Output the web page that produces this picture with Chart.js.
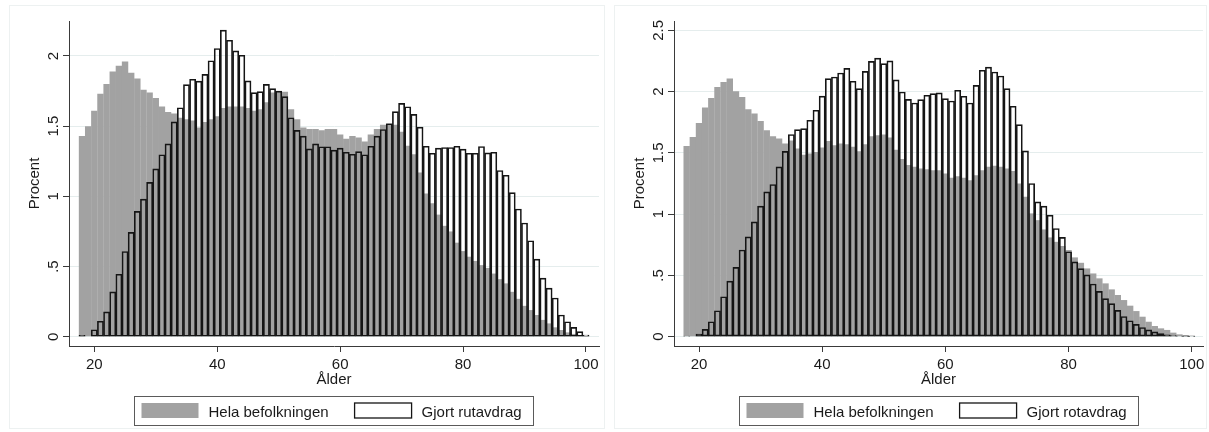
<!DOCTYPE html>
<html>
<head>
<meta charset="utf-8">
<script src="https://cdn.jsdelivr.net/npm/chart.js@4.4.1/dist/chart.umd.min.js"></script>
<style>
  html, body { margin: 0; padding: 0; background: #ffffff; }
  body { width: 1209px; height: 432px; position: relative; overflow: hidden; }
  .frame { position: absolute; border: 1px solid #edf1f1; box-sizing: border-box; }
  .panel { position: absolute; top: 0; width: 604px; height: 432px; }
</style>
</head>
<body>
<div class="frame" style="left:9px;top:5px;width:596px;height:424px"></div>
<div class="frame" style="left:614px;top:5px;width:593px;height:424px"></div>
<div class="panel" style="left:0px"><canvas id="rut" width="604" height="432"></canvas></div>
<div class="panel" style="left:605px"><canvas id="rot" width="604" height="432"></canvas></div>
<script>
// Age (years), one bar per age
const ages = [18, 19, 20, 21, 22, 23, 24, 25, 26, 27, 28, 29, 30, 31, 32, 33, 34, 35, 36, 37,
  38, 39, 40, 41, 42, 43, 44, 45, 46, 47, 48, 49, 50, 51, 52, 53, 54, 55, 56, 57,
  58, 59, 60, 61, 62, 63, 64, 65, 66, 67, 68, 69, 70, 71, 72, 73, 74, 75, 76, 77,
  78, 79, 80, 81, 82, 83, 84, 85, 86, 87, 88, 89, 90, 91, 92, 93, 94, 95, 96, 97,
  98, 99, 100];

// Share of whole population per age (%) - RUT panel
const rutPopulation = [1.43, 1.50, 1.61, 1.73, 1.80, 1.89, 1.93, 1.96, 1.88, 1.84,
  1.76, 1.74, 1.70, 1.64, 1.60, 1.59, 1.56, 1.55, 1.54, 1.49,
  1.53, 1.55, 1.57, 1.63, 1.64, 1.64, 1.64, 1.63, 1.61, 1.62,
  1.67, 1.74, 1.745, 1.745, 1.62, 1.55, 1.49, 1.48, 1.48, 1.47,
  1.48, 1.48, 1.44, 1.41, 1.43, 1.42, 1.39, 1.44, 1.48, 1.51,
  1.52, 1.51, 1.46, 1.36, 1.30, 1.17, 1.02, 0.95, 0.87, 0.79,
  0.75, 0.67, 0.61, 0.57, 0.54, 0.51, 0.49, 0.45, 0.41, 0.38,
  0.32, 0.27, 0.22, 0.19, 0.155, 0.12, 0.095, 0.067, 0.048, 0.031,
  0.02, 0.01, 0.005];

// Share of RUT deduction users per age (%)
const rutUsers = [0.01, 0, 0.05, 0.11, 0.177, 0.32, 0.445, 0.607, 0.743, 0.893,
  0.98, 1.10, 1.196, 1.296, 1.374, 1.531, 1.631, 1.796, 1.834, 1.821,
  1.869, 1.966, 2.053, 2.184, 2.112, 2.036, 2.005, 1.823, 1.739, 1.746,
  1.798, 1.767, 1.75, 1.71, 1.56, 1.47, 1.429, 1.338, 1.374, 1.353,
  1.353, 1.329, 1.343, 1.314, 1.30, 1.319, 1.296, 1.357, 1.429, 1.476,
  1.517, 1.603, 1.662, 1.638, 1.584, 1.493, 1.357, 1.307, 1.343, 1.348,
  1.348, 1.357, 1.336, 1.307, 1.307, 1.355, 1.31, 1.314, 1.184, 1.15,
  1.026, 0.91, 0.81, 0.684, 0.553, 0.417, 0.346, 0.276, 0.155, 0.107,
  0.067, 0.036, 0.012];

// Share of whole population per age (%) - ROT panel
const rotPopulation = [1.557, 1.63, 1.744, 1.87, 1.948, 2.038, 2.078, 2.106, 2.002, 1.956,
  1.856, 1.821, 1.76, 1.685, 1.636, 1.617, 1.576, 1.60, 1.535, 1.485,
  1.495, 1.508, 1.543, 1.597, 1.562, 1.576, 1.57, 1.549, 1.513, 1.57,
  1.636, 1.644, 1.65, 1.625, 1.525, 1.45, 1.40, 1.386, 1.372, 1.367,
  1.359, 1.359, 1.332, 1.296, 1.31, 1.296, 1.277, 1.318, 1.359, 1.386,
  1.394, 1.386, 1.372, 1.353, 1.25, 1.141, 1.006, 0.951, 0.875, 0.81,
  0.774, 0.74, 0.707, 0.647, 0.603, 0.557, 0.516, 0.476, 0.435, 0.386,
  0.34, 0.299, 0.253, 0.209, 0.163, 0.122, 0.087, 0.068, 0.055, 0.033,
  0.019, 0.014, 0.008];

// Share of ROT deduction users per age (%)
const rotUsers = [0.005, 0, 0.022, 0.06, 0.122, 0.212, 0.326, 0.454, 0.565, 0.707,
  0.815, 0.937, 1.065, 1.182, 1.242, 1.386, 1.512, 1.65, 1.69, 1.698,
  1.766, 1.848, 1.963, 2.106, 2.119, 2.152, 2.19, 2.084, 2.024, 2.165,
  2.247, 2.273, 2.228, 2.25, 2.095, 1.997, 1.936, 1.907, 1.935, 1.97,
  1.984, 1.989, 1.943, 1.923, 2.011, 1.962, 1.907, 2.051, 2.174, 2.20,
  2.16, 2.127, 2.024, 1.88, 1.731, 1.516, 1.25, 1.10, 1.065, 0.992,
  0.883, 0.81, 0.693, 0.61, 0.555, 0.505, 0.43, 0.37, 0.31, 0.27,
  0.215, 0.165, 0.13, 0.1, 0.075, 0.055, 0.039, 0.026, 0.016, 0.009,
  0.005, 0.003, 0.002];

const xTickValues = [20, 40, 60, 80, 100];
const rutYTickValues = [0, 0.5, 1, 1.5, 2];
const rutYTickLabels = ['0', '.5', '1', '1.5', '2'];
const rotYTickValues = [0, 0.5, 1, 1.5, 2, 2.5];
const rotYTickLabels = ['0', '.5', '1', '1.5', '2', '2.5'];

const FONT_FAMILY = '"Liberation Sans", Arial, Helvetica, sans-serif';
const TEXT = '#1a1a1a';
const AXIS = '#3a3a3a';
const GRID = '#e5eded';
const POP_GRAY = '#a2a2a2';
const OUTLINE = '#151515';

// Vertical tick labels on the y axis, reading bottom to top
const rotatedYLabels = {
  id: 'rotatedYLabels',
  afterDraw(chart, args, opts) {
    const scale = chart.scales.y;
    const ctx = chart.ctx;
    ctx.save();
    ctx.font = '15px ' + FONT_FAMILY;
    ctx.fillStyle = TEXT;
    ctx.textAlign = 'center';
    ctx.textBaseline = 'alphabetic';
    opts.values.forEach((v, i) => {
      const py = scale.getPixelForValue(v);
      ctx.save();
      ctx.translate(scale.right - 11.5, py);
      ctx.rotate(-Math.PI / 2);
      ctx.fillText(opts.labels[i], 0, 0);
      ctx.restore();
    });
    ctx.restore();
  }
};

// Framed legend centred under the plot area
const boxedLegend = {
  id: 'boxedLegend',
  afterDraw(chart) {
    const ctx = chart.ctx;
    const area = chart.chartArea;
    const sets = chart.data.datasets;
    const pop = sets[1], users = sets[0];
    ctx.save();
    ctx.font = '15px ' + FONT_FAMILY;
    const sw = 57, sh = 15, gap = 10, between = 26, padL = 7, padR = 12;
    const w1 = ctx.measureText(pop.label).width;
    const w2 = ctx.measureText(users.label).width;
    const total = padL + sw + gap + w1 + between + sw + gap + w2 + padR;
    const cx = (area.left + area.right) / 2;
    const x0 = Math.round(cx - total / 2) + 0.5;
    const top = 396.5, h = 29;
    ctx.strokeStyle = '#5a5a5a';
    ctx.lineWidth = 1;
    ctx.strokeRect(x0, top, Math.round(total), h);
    let x = x0 + padL;
    ctx.fillStyle = pop.backgroundColor;
    ctx.fillRect(x, 403, sw, sh);
    x += sw + gap;
    ctx.fillStyle = TEXT;
    ctx.textBaseline = 'alphabetic';
    ctx.textAlign = 'left';
    ctx.fillText(pop.label, x, 416.5);
    x += w1 + between;
    ctx.fillStyle = '#ffffff';
    ctx.fillRect(x, 403, sw, sh);
    ctx.strokeStyle = OUTLINE;
    ctx.lineWidth = 1.3;
    ctx.strokeRect(x, 403, sw, sh);
    x += sw + gap;
    ctx.fillStyle = TEXT;
    ctx.fillText(users.label, x, 416.5);
    ctx.restore();
  }
};

function buildPanel(canvasId, population, users, usersLabel, yMin, yMax, yTicks, yLabels, xMin, xMax, padRight) {
  return new Chart(document.getElementById(canvasId), {
    type: 'bar',
    data: {
      labels: ages,
      datasets: [
        {
          label: usersLabel,
          data: users,
          backgroundColor: 'rgba(255,255,255,0)',
          borderColor: OUTLINE,
          borderWidth: 1,
          borderSkipped: false,
          barPercentage: 1,
          order: 1
        },
        {
          label: 'Hela befolkningen',
          data: population,
          backgroundColor: POP_GRAY,
          borderWidth: 0,
          barPercentage: 1.04,
          order: 2
        }
      ]
    },
    options: {
      responsive: false,
      animation: false,
      devicePixelRatio: 1,
      layout: { padding: { top: 21, right: padRight, left: 0, bottom: 0 } },
      datasets: { bar: { grouped: false, categoryPercentage: 1 } },
      plugins: {
        legend: { display: false },
        tooltip: { enabled: false },
        rotatedYLabels: { values: yTicks, labels: yLabels }
      },
      scales: {
        x: {
          type: 'linear',
          offset: false,
          min: xMin,
          max: xMax,
          afterBuildTicks: (s) => { s.ticks = xTickValues.map(v => ({ value: v })); },
          afterFit: (s) => { s.height = 86; },
          grid: { offset: false, drawOnChartArea: false, drawTicks: true, tickLength: 6, tickColor: AXIS, lineWidth: 1 },
          border: { color: AXIS, width: 1 },
          ticks: { padding: 4, color: TEXT, font: { family: FONT_FAMILY, size: 15 }, maxRotation: 0 },
          title: {
            display: true, text: 'Ålder', color: TEXT,
            font: { family: FONT_FAMILY, size: 15, lineHeight: 1.2 },
            padding: { top: 0, bottom: 43 }
          }
        },
        y: {
          type: 'linear',
          min: yMin,
          max: yMax,
          afterBuildTicks: (s) => { s.ticks = yTicks.map(v => ({ value: v })); },
          afterFit: (s) => { s.width = 69; },
          grid: { color: GRID, lineWidth: 1, drawTicks: true, tickLength: 6, tickColor: AXIS },
          border: { color: AXIS, width: 1 },
          ticks: { display: false },
          title: {
            display: true, text: 'Procent', color: TEXT,
            font: { family: FONT_FAMILY, size: 15, lineHeight: 1.2 },
            padding: { top: 26, bottom: 0 }
          }
        }
      }
    },
    plugins: [rotatedYLabels, boxedLegend]
  });
}

buildPanel('rut', rutPopulation, rutUsers, 'Gjort rutavdrag',
  -0.066, 2.249, rutYTickValues, rutYTickLabels, 15.88, 102.12, 5);
buildPanel('rot', rotPopulation, rotUsers, 'Gjort rotavdrag',
  -0.076, 2.576, rotYTickValues, rotYTickLabels, 15.94, 101.83, 6);
</script>
</body>
</html>
